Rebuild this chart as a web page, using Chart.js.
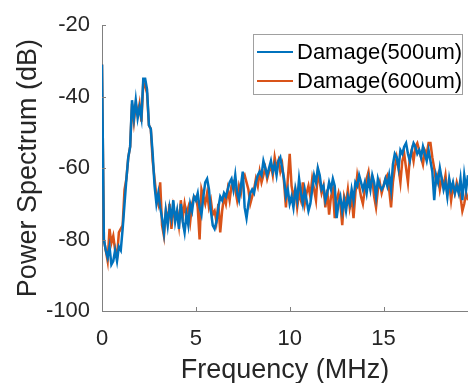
<!DOCTYPE html>
<html>
<head>
<meta charset="utf-8">
<script src="https://cdn.jsdelivr.net/npm/chart.js@4.4.1/dist/chart.umd.min.js"></script>
<style>
  body { margin: 0; background: #fff; }
  #chart { display: block; }
</style>
</head>
<body>
<canvas id="chart" width="468" height="383"></canvas>
<script>
// ── Data ─────────────────────────────────────────────────
const freq = [
  0.0, 0.1, 0.2, 0.3, 0.4, 0.5, 0.6, 0.7, 0.8, 0.9,
  1.0, 1.1, 1.2, 1.3, 1.4, 1.5, 1.6, 1.7, 1.8, 1.9,
  2.0, 2.1, 2.2, 2.3, 2.4, 2.5, 2.6, 2.7, 2.8, 2.9,
  3.0, 3.1, 3.2, 3.3, 3.4, 3.5, 3.6, 3.7, 3.8, 3.9,
  4.0, 4.1, 4.2, 4.3, 4.4, 4.5, 4.6, 4.7, 4.8, 4.9,
  5.0, 5.1, 5.2, 5.3, 5.4, 5.5, 5.6, 5.7, 5.8, 5.9,
  6.0, 6.1, 6.2, 6.3, 6.4, 6.5, 6.6, 6.7, 6.8, 6.9,
  7.0, 7.1, 7.2, 7.3, 7.4, 7.5, 7.6, 7.7, 7.8, 7.9,
  8.0, 8.1, 8.2, 8.3, 8.4, 8.5, 8.6, 8.7, 8.8, 8.9,
  9.0, 9.1, 9.2, 9.3, 9.4, 9.5, 9.6, 9.7, 9.8, 9.9,
  10.0, 10.1, 10.2, 10.3, 10.4, 10.5, 10.6, 10.7, 10.8, 10.9,
  11.0, 11.1, 11.2, 11.3, 11.4, 11.5, 11.6, 11.7, 11.8, 11.9,
  12.0, 12.1, 12.2, 12.3, 12.4, 12.5, 12.6, 12.7, 12.8, 12.9,
  13.0, 13.1, 13.2, 13.3, 13.4, 13.5, 13.6, 13.7, 13.8, 13.9,
  14.0, 14.1, 14.2, 14.3, 14.4, 14.5, 14.6, 14.7, 14.8, 14.9,
  15.0, 15.1, 15.2, 15.3, 15.4, 15.5, 15.6, 15.7, 15.8, 15.9,
  16.0, 16.1, 16.2, 16.3, 16.4, 16.5, 16.6, 16.7, 16.8, 16.9,
  17.0, 17.1, 17.2, 17.3, 17.4, 17.5, 17.6, 17.7, 17.8, 17.9,
  18.0, 18.1, 18.2, 18.3, 18.4, 18.5, 18.6, 18.7, 18.8, 18.9,
  19.0, 19.1, 19.2, 19.3, 19.4, 19.5
];

const damage500 = [
  -31, -80, -83, -85, -82, -87, -86, -83, -86, -82,
  -83, -77, -70, -63, -57, -54, -41, -46, -41, -46,
  -43, -46, -35, -35, -38, -48, -49, -56, -65, -70,
  -67, -71, -74, -78, -72, -76, -71, -74, -69, -75,
  -72, -77, -70, -75, -78, -73, -76, -70, -72, -68,
  -69, -67, -71, -73, -68, -64, -63, -66, -72, -76,
  -77, -75, -71, -68, -69, -67, -68, -66, -64, -63,
  -66, -62, -67, -69, -65, -61, -71, -74, -70, -67,
  -66, -67, -64, -62, -61, -62, -58, -60, -62, -60,
  -58, -61, -59, -62, -58, -57, -60, -63, -68, -66,
  -70, -68, -71, -66, -69, -63, -67, -70, -66, -69,
  -72, -70, -66, -62, -64, -60, -62, -66, -65, -69,
  -67, -64, -66, -63, -65, -74, -70, -68, -72, -69,
  -72, -68, -70, -66, -69, -64, -65, -62, -64, -66,
  -64, -67, -63, -66, -62, -64, -68, -63, -65, -66,
  -65, -63, -65, -62, -66, -59, -56, -57, -60, -55,
  -56, -54, -53, -56, -58, -55, -53, -54, -56, -55,
  -57, -54, -56, -58, -55, -58, -61, -69, -62, -64,
  -60, -63, -66, -64, -68, -63, -66, -64, -67, -65,
  -67, -63, -69, -62, -66, -62
];

const damage600 = [
  -31, -80, -83, -86, -77, -81, -79, -83, -85, -78,
  -77, -76, -66, -63, -57, -54, -42, -47, -42, -45,
  -42, -47, -36, -37, -39, -48, -49, -58, -63, -68,
  -70, -64, -76, -79, -72, -75, -70, -77, -71, -74,
  -72, -76, -69, -74, -70, -73, -71, -75, -70, -68,
  -68, -71, -80, -66, -68, -70, -67, -71, -69, -73,
  -72, -75, -70, -78, -72, -68, -70, -66, -69, -65,
  -64, -66, -69, -65, -67, -63, -62, -64, -66, -70,
  -68, -66, -63, -65, -61, -64, -62, -60, -63, -61,
  -59, -62, -57, -60, -58, -61, -59, -64, -71, -63,
  -56, -65, -68, -66, -71, -67, -69, -64, -70, -67,
  -65, -68, -63, -66, -69, -61, -64, -67, -65, -71,
  -66, -73, -68, -66, -74, -69, -67, -70, -76, -68,
  -70, -66, -71, -68, -74, -67, -62, -65, -68, -70,
  -66, -63, -61, -65, -63, -68, -71, -66, -64, -67,
  -65, -63, -62, -66, -71, -64, -60, -57, -60, -64,
  -58, -56, -60, -64, -57, -55, -58, -54, -53, -55,
  -57, -59, -55, -56, -53, -53, -57, -60, -64, -62,
  -66, -63, -65, -62, -67, -64, -69, -65, -67, -64,
  -66, -68, -72, -70, -67, -69
];

const xTicks = [0, 5, 10, 15];
const yTicks = [-100, -80, -60, -40, -20];

const fontFamily = "Liberation Sans, Arial, sans-serif";

// ── Inward tick marks (MATLAB style) ─────────────────────
const innerTicks = {
    id: "innerTicks",
    afterDraw(chart) {
        const { ctx, chartArea, scales } = chart;
        ctx.save();
        ctx.strokeStyle = "#808080";
        ctx.lineWidth = 1;
        ctx.beginPath();
        xTicks.forEach((v) => {
            const px = Math.round(scales.x.getPixelForValue(v)) + 0.5;
            ctx.moveTo(px, chartArea.bottom);
            ctx.lineTo(px, chartArea.bottom - 4);
        });
        yTicks.forEach((v) => {
            const py = Math.round(scales.y.getPixelForValue(v)) + 0.5;
            ctx.moveTo(chartArea.left, py);
            ctx.lineTo(chartArea.left + 4, py);
        });
        ctx.stroke();
        ctx.restore();
    }
};

// ── Legend box drawn inside the plot, top right ──────────
const boxLegend = {
    id: "boxLegend",
    afterDraw(chart) {
        const { ctx } = chart;
        const x0 = 253, y0 = 34, w = 209, h = 60;
        ctx.save();
        ctx.fillStyle = "#fff";
        ctx.fillRect(x0, y0, w, h);
        ctx.strokeStyle = "#a0a0a0";
        ctx.lineWidth = 1;
        ctx.strokeRect(x0 + 0.5, y0 + 0.5, w, h);
        ctx.font = `22px ${fontFamily}`;
        ctx.textBaseline = "middle";
        chart.data.datasets.forEach((ds, i) => {
            const yy = y0 + 18 + i * 29;
            ctx.strokeStyle = ds.borderColor;
            ctx.lineWidth = 2;
            ctx.beginPath();
            ctx.moveTo(x0 + 4, yy);
            ctx.lineTo(x0 + 40, yy);
            ctx.stroke();
            ctx.fillStyle = "#000";
            ctx.fillText(ds.label, x0 + 44, yy + 1);
        });
        ctx.restore();
    }
};

const toPoints = (vals) => vals.map((v, i) => ({ x: freq[i], y: v }));

new Chart(document.getElementById("chart"), {
    type: "line",
    data: {
        datasets: [{
            label: "Damage(500um)",
            data: toPoints(damage500),
            borderColor: "#0072BD",
            backgroundColor: "#0072BD",
            borderWidth: 2.5,
            pointRadius: 0,
            tension: 0
        }, {
            label: "Damage(600um)",
            data: toPoints(damage600),
            borderColor: "#D95319",
            backgroundColor: "#D95319",
            borderWidth: 2.5,
            pointRadius: 0,
            tension: 0
        }]
    },
    options: {
        responsive: false,
        animation: false,
        devicePixelRatio: 1,
        layout: { padding: { top: 25, right: 0, left: 0, bottom: 0 } },
        plugins: {
            legend: { display: false },
            tooltip: { enabled: false }
        },
        scales: {
            x: {
                type: "linear",
                min: 0,
                max: 19.5,
                afterFit: (scale) => { scale.height = 72; },
                afterBuildTicks: (scale) => { scale.ticks = xTicks.map((v) => ({ value: v })); },
                grid: { display: true, drawOnChartArea: false, drawTicks: false },
                border: { display: true, color: "#808080", width: 1 },
                ticks: {
                    padding: 15,
                    color: "#262626",
                    font: { family: fontFamily, size: 22 }
                },
                title: {
                    display: true,
                    text: "Frequency (MHz)",
                    color: "#262626",
                    padding: { top: 0, bottom: -4 },
                    font: { family: fontFamily, size: 27 }
                }
            },
            y: {
                min: -100,
                max: -20,
                afterFit: (scale) => { scale.width = 102; },
                afterBuildTicks: (scale) => { scale.ticks = yTicks.map((v) => ({ value: v })); },
                grid: { display: true, drawOnChartArea: false, drawTicks: false },
                border: { display: true, color: "#808080", width: 1 },
                ticks: {
                    padding: 12,
                    color: "#262626",
                    font: { family: fontFamily, size: 22 }
                },
                title: {
                    display: true,
                    text: "Power Spectrum (dB)",
                    color: "#262626",
                    padding: { top: 12, bottom: 0 },
                    font: { family: fontFamily, size: 27 }
                }
            }
        }
    },
    plugins: [innerTicks, boxLegend]
});
</script>
</body>
</html>
